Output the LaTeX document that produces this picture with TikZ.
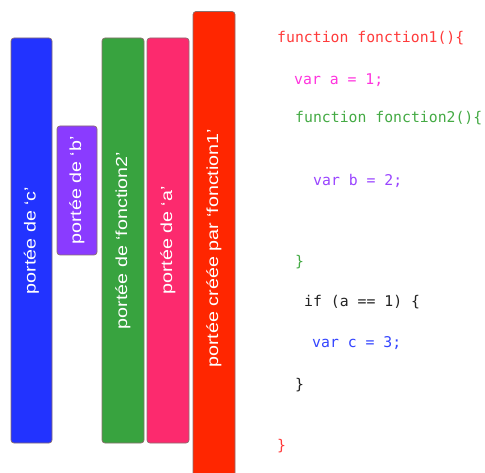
\documentclass[tikz,border=0pt]{standalone}
\usepackage{fontspec}
\setmainfont{Liberation Sans}
\newfontfamily\codefont{DejaVu Sans Mono}
\usepackage{graphicx}
\definecolor{barblue}{HTML}{2233FF}
\definecolor{barpurple}{HTML}{8A3BFF}
\definecolor{bargreen}{HTML}{38A33F}
\definecolor{barpink}{HTML}{FC2A6E}
\definecolor{barred}{HTML}{FF2600}
\definecolor{barline}{HTML}{8A6E6E}
\definecolor{cred}{HTML}{FF3B3B}
\definecolor{cmag}{HTML}{FF33DD}
\definecolor{cgreen}{HTML}{44AA44}
\definecolor{cpurple}{HTML}{9944FF}
\definecolor{cblue}{HTML}{3344FF}
\definecolor{cblack}{HTML}{222222}
\newcommand{\bartxt}[1]{\scalebox{1.23}[1]{#1}}
\begin{document}
\begin{tikzpicture}[x=1pt,y=-1pt,
  bar/.style={draw=barline, line width=0.7pt, rounded corners=3pt, rotate=90,
    inner sep=0pt, outer sep=0pt, text=white,
    font=\fontsize{16}{19}\selectfont},
  code/.style={anchor=base west, inner sep=0pt, font=\codefont\fontsize{14.8}{17}\selectfont}]
\useasboundingbox (0,0) rectangle (485,473);
\clip (0,0) rectangle (485,473);
% scope bars
\node[bar, fill=barblue, minimum width=405pt, minimum height=41pt] (sc) at (31.5,240.5) {\bartxt{portée de ‘c’}};
\node[bar, fill=barpurple, minimum width=129pt, minimum height=40pt] (sb) at (77,190.5) {\bartxt{portée de ‘b’}};
\node[bar, fill=bargreen, minimum width=405pt, minimum height=42pt] (sf2) at (123,240.5) {\bartxt{portée de ‘fonction2’}};
\node[bar, fill=barpink, minimum width=405pt, minimum height=42pt] (sa) at (168,240.5) {\bartxt{portée de ‘a’}};
\node[bar, fill=barred, minimum width=473.5pt, minimum height=42pt] (sf1) at (214,248.25) {\bartxt{portée créée par ‘fonction1’}};
% code
\node[code, text=cred] (l1) at (277,43) {function fonction1()\{};
\node[code, text=cmag] (l2) at (294,85) {var a = 1;};
\node[code, text=cgreen] (l3) at (295,123) {function fonction2()\{};
\node[code, text=cpurple] (l4) at (313,186) {var b = 2;};
\node[code, text=cgreen] (l5) at (295,267) {\}};
\node[code, text=cblack] (l6) at (304,307) {if (a == 1) \{};
\node[code, text=cblue] (l7) at (312,348) {var c = 3;};
\node[code, text=cblack] (l8) at (295,389) {\}};
\node[code, text=cred] (l9) at (277,450) {\}};
\end{tikzpicture}
\end{document}
